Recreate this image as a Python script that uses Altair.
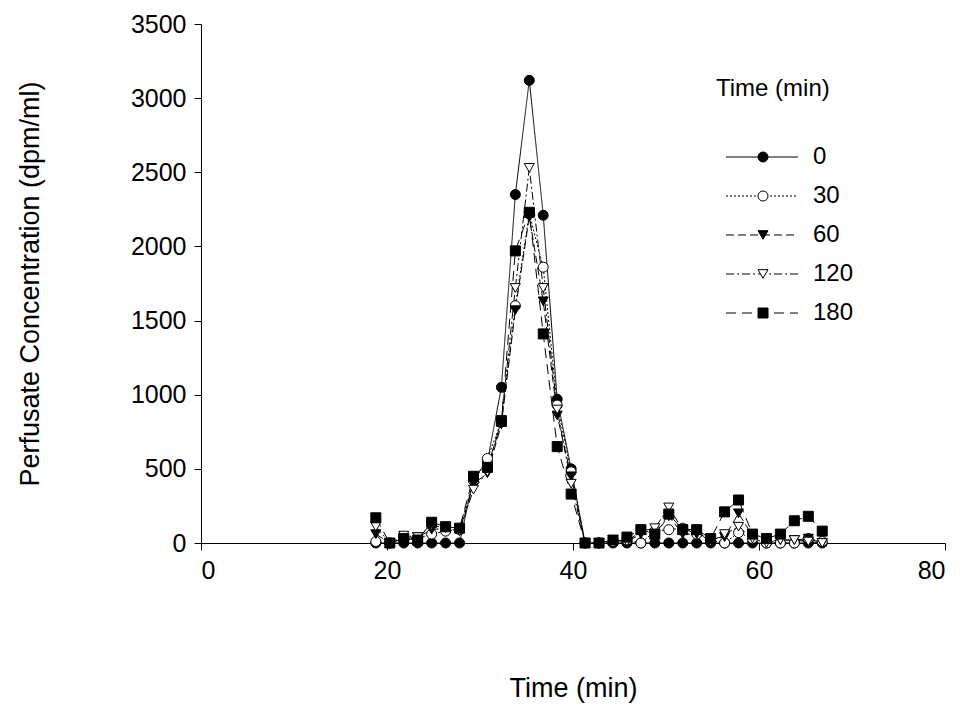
import altair as alt
import pandas as pd

times = [round(18.8 + 1.5 * i, 2) for i in range(33)]
s0 = [0]*7 + [430, 550, 1050, 2350, 3120, 2210, 970, 500] + [0]*18
s30 = [10, 0, 30, 30, 60, 80, 90] + [420, 570, 820, 1600, 2220, 1860, 930, 480] + \
      [0, 0, 10, 20, 0, 80, 90, 100, 60, 20, 0, 70, 30, 0, 0, 0, 30, 10]
s60 = [60, 0, 30, 40, 90, 100, 80] + [400, 470, 800, 1570, 2200, 1630, 860, 450] + \
      [0, 0, 20, 10, 60, 60, 180, 60, 60, 30, 40, 200, 50, 10, 20, 20, 30, 0]
s120 = [110, 0, 50, 40, 120, 100, 80] + [360, 480, 830, 1720, 2530, 1720, 900, 400] + \
       [0, 0, 20, 10, 80, 100, 240, 90, 80, 10, 60, 110, 30, 0, 20, 20, 10, 0]
s180 = [170, 0, 30, 20, 140, 110, 100] + [450, 510, 820, 1970, 2230, 1410, 650, 330] + \
       [0, 0, 20, 40, 90, 60, 195, 90, 90, 30, 210, 290, 60, 30, 60, 150, 180, 80]
labels = ["0", "30", "60", "120", "180"]
series = [s0, s30, s60, s120, s180]

rows = []
for lab, vals in zip(labels, series):
    for t, v in zip(times, vals):
        rows.append({"t": t, "v": v, "s": lab})
df = pd.DataFrame(rows)

shapes = ["circle", "circle", "triangle-down", "triangle-down", "square"]
fills = ["black", "white", "black", "white", "black"]
dashes = [[1, 0], [2, 2], [8, 4], [8, 3, 2, 3], [10, 6]]
FONT = "Liberation Sans"

x = alt.X("t:Q", scale=alt.Scale(domain=[0, 80]),
          axis=alt.Axis(values=[0, 20, 40, 60, 80], title="Time (min)", titlePadding=92))
y = alt.Y("v:Q", scale=alt.Scale(domain=[0, 3500]),
          axis=alt.Axis(values=list(range(0, 3501, 500)), format="d",
                        title="Perfusate Concentration (dpm/ml)", titlePadding=86))
sd = alt.StrokeDash("s:N", scale=alt.Scale(domain=labels, range=dashes), legend=None)

lines = alt.Chart(df).mark_line(color="black", strokeWidth=1).encode(x=x, y=y, strokeDash=sd)
pts = alt.Chart(df).mark_point(stroke="black", strokeWidth=1, size=100, opacity=1, filled=False).encode(
    x=x, y=y,
    shape=alt.Shape("s:N", scale=alt.Scale(domain=labels, range=shapes), legend=None),
    fill=alt.Fill("s:N", scale=alt.Scale(domain=labels, range=fills), legend=None),
)

layers = [lines, pts]
one = pd.DataFrame({"a": [0]})
layers.append(alt.Chart(one).mark_text(text="Time (min)", fontSize=24, font=FONT, align="left",
                                       baseline="middle", color="black")
              .encode(x=alt.value(515), y=alt.value(65)))
for i, lab in enumerate(labels):
    yy = 133 + 39 * i
    layers.append(alt.Chart(one).mark_rule(color="black", strokeWidth=1, strokeDash=dashes[i])
                  .encode(x=alt.value(525), x2=alt.value(597), y=alt.value(yy)))
    layers.append(alt.Chart(one).mark_point(shape=shapes[i], fill=fills[i], stroke="black",
                                            strokeWidth=1, size=100, opacity=1, filled=False)
                  .encode(x=alt.value(562), y=alt.value(yy)))
    layers.append(alt.Chart(one).mark_text(text=lab, fontSize=24, font=FONT, align="left",
                                           baseline="middle", color="black")
                  .encode(x=alt.value(612), y=alt.value(yy)))

chart = alt.layer(*layers).properties(
    width=744, height=519, padding={"left": 8, "top": 4, "right": 10, "bottom": 10}
).configure_view(stroke=None).configure_axis(
    labelFont=FONT, titleFont=FONT, labelFontSize=25, titleFontSize=27,
    titleFontWeight="normal", labelColor="black", titleColor="black", domainColor="black",
    tickColor="black", grid=False, tickSize=7, labelPadding=8
)

chart.save("out.html", embed_options={"renderer": "svg", "actions": False})
